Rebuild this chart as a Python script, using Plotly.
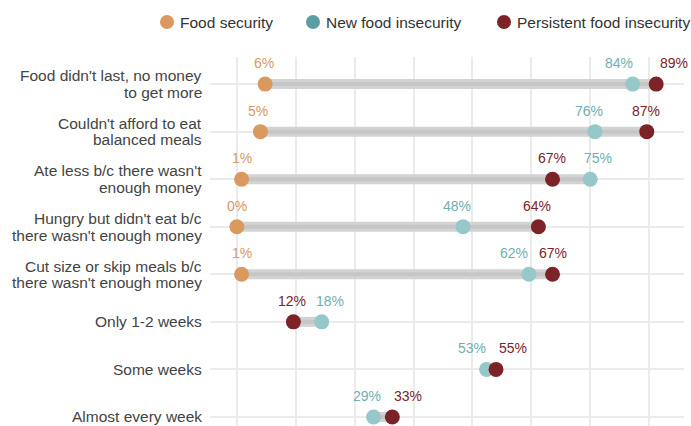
import plotly.graph_objects as go

categories = [
    "Food didn't last, no money<br>to get more",
    "Couldn't afford to eat<br>balanced meals",
    "Ate less b/c there wasn't<br>enough money",
    "Hungry but didn't eat b/c<br>there wasn't enough money",
    "Cut size or skip meals b/c<br>there wasn't enough money",
    "Only 1-2 weeks",
    "Some weeks",
    "Almost every week",
]
food_security = [6, 5, 1, 0, 1, None, None, None]
new_insecurity = [84, 76, 75, 48, 62, 18, 53, 29]
persistent_insecurity = [89, 87, 67, 64, 67, 12, 55, 33]
series_names = ["Food security", "New food insecurity", "Persistent food insecurity"]

# label horizontal nudges (px), like a repel step
fs_shift = [-1, -2, 0, 0, 0, 0, 0, 0]
ni_shift = [-14, -6, 8, -6, -15, 8, -15, -7]
pi_shift = [18, -1, -1, -1, 0, -1, 17, 16]

C_FS = "#D9995F"
C_NI_DOT = "#96C7C9"
C_NI_LEG = "#5A9EA1"
C_NI_TXT = "#6FAFB1"
C_PI = "#7B2326"
FONT = "Liberation Sans, Arial, sans-serif"

W, H = 691, 426
ML, MR, MT, MB = 210, 7, 57, 0

ys = list(range(len(categories)))
fig = go.Figure()

# gray segments
for i in ys:
    vals = [v for v in (food_security[i], new_insecurity[i], persistent_insecurity[i]) if v is not None]
    lo, hi = min(vals), max(vals)
    fig.add_trace(go.Scatter(x=[lo, hi], y=[i, i], mode="lines",
                             line=dict(color="#D3D3D3", width=10), showlegend=False, hoverinfo="skip"))
    fig.add_trace(go.Scatter(x=[lo, hi], y=[i, i], mode="lines",
                             line=dict(color="#C6C6C6", width=4), showlegend=False, hoverinfo="skip"))

def dots(vals):
    xs = [v for v in vals if v is not None]
    yy = [i for i, v in zip(ys, vals) if v is not None]
    return xs, yy

for vals, col, nm in ((food_security, C_FS, series_names[0]),
                      (new_insecurity, C_NI_DOT, series_names[1]),
                      (persistent_insecurity, C_PI, series_names[2])):
    x, y = dots(vals)
    fig.add_trace(go.Scatter(x=x, y=y, mode="markers", marker=dict(size=15, color=col),
                             name=nm, showlegend=False, cliponaxis=False))

ann = []
for vals, shifts, col in ((food_security, fs_shift, C_FS),
                          (new_insecurity, ni_shift, C_NI_TXT),
                          (persistent_insecurity, pi_shift, C_PI)):
    for i, v in enumerate(vals):
        if v is None:
            continue
        ann.append(dict(x=v, y=i, xref="x", yref="y", text=f"{v}%", showarrow=False,
                        xshift=shifts[i], yshift=21, font=dict(size=14, color=col, family=FONT)))

# category labels, one annotation per line
for i, cat in enumerate(categories):
    lines = cat.split("<br>")
    n = len(lines)
    for k, line in enumerate(lines):
        off = ((n - 1) / 2 - k) * 16.5
        ann.append(dict(x=0, y=i, xref="paper", yref="y", text=line, showarrow=False,
                        xanchor="right", xshift=-6, yshift=off,
                        font=dict(size=15.5, color="#444444", family=FONT)))

# legend drawn at the top (marker centre px in figure coords)
leg_colors = [C_FS, C_NI_LEG, C_PI]
leg_marker_px = [167, 313, 504]
leg_y_px = 22
shapes = []
for nm, col, mx in zip(series_names, leg_colors, leg_marker_px):
    dx = mx - ML
    dy = MT - leg_y_px
    shapes.append(dict(type="circle", xref="paper", yref="paper", xsizemode="pixel", ysizemode="pixel",
                       xanchor=0, yanchor=1, x0=dx - 7, x1=dx + 7, y0=dy - 7, y1=dy + 7,
                       fillcolor=col, line=dict(width=0)))
    ann.append(dict(x=0, y=1, xref="paper", yref="paper", text=nm, showarrow=False,
                    xanchor="left", yanchor="middle", xshift=dx + 13 - 2, yshift=dy,
                    font=dict(size=15.5, color="#333333", family=FONT)))

fig.update_layout(
    width=W, height=H,
    margin=dict(l=ML, r=MR, t=MT, b=MB),
    paper_bgcolor="white", plot_bgcolor="white",
    font=dict(family=FONT),
    annotations=ann,
    shapes=shapes,
    showlegend=False,
    hovermode=False,
    xaxis=dict(range=[-5.7, 94.9], tickvals=[0, 12.5, 25, 37.5, 50, 62.5, 75, 87.5],
               showticklabels=False, showgrid=True, gridcolor="#EBEBEB", gridwidth=1.5,
               zeroline=False, showline=False, ticks=""),
    yaxis=dict(range=[7.19, -0.57], tickvals=ys, showticklabels=False, showgrid=True,
               gridcolor="#EBEBEB", gridwidth=1.5, zeroline=False, showline=False, ticks=""),
)

fig.write_html("out.html", config={"displayModeBar": False},
               post_script="document.body.style.margin='0';document.body.style.overflow='hidden';")
